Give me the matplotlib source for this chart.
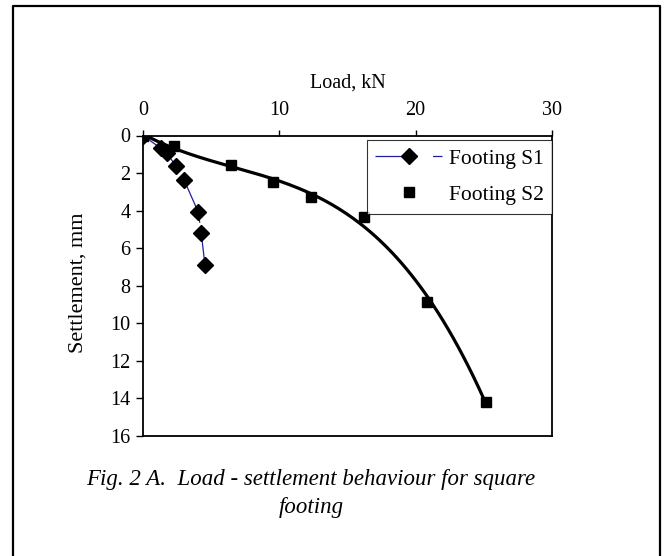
import numpy as np
import matplotlib
matplotlib.use("Agg")
import matplotlib.pyplot as plt
from matplotlib.lines import Line2D
from matplotlib.transforms import Bbox

plt.rcParams['font.family'] = ['Liberation Serif', 'DejaVu Serif']

# === Data: load (kN) vs settlement (mm) ===
load_s1 = [0.0, 1.3, 1.75, 2.4, 3.0, 4.05, 4.27, 4.55]
settle_s1 = [0.0, 0.68, 0.95, 1.6, 2.35, 4.07, 5.19, 6.92]

load_s2 = [0.0, 2.3, 6.43, 9.51, 12.3, 16.24, 20.81, 25.14]
settle_s2 = [0.0, 0.56, 1.58, 2.48, 3.3, 4.36, 8.85, 14.17]

x_ticks = [0, 10, 20, 30]
y_ticks = [0, 2, 4, 6, 8, 10, 12, 14, 16]

W, H = 667, 556
fig = plt.figure(figsize=(W / 100, H / 100), dpi=100)

def fx(px):
    return px / W

def fy(py):
    return 1 - py / H

# axes box (pixel edges)
left, right, top, bottom = 143, 552, 135.5, 436
ax = fig.add_axes([fx(left), fy(bottom), fx(right) - fx(left), fy(top) - fy(bottom)])

# === S1: dashed thin blue line with diamond markers ===
ax.plot(load_s1, settle_s1, color='#1f1fa0', lw=0.9, dashes=(40, 6), zorder=2)
ax.plot(load_s1, settle_s1, ls='none', marker='D', ms=8, color='black', zorder=4)

# === S2: square markers plus a cubic trend line ===
coef = np.polyfit(load_s2, settle_s2, 3)
xs = np.linspace(0, max(load_s2), 200)
ax.plot(xs, np.polyval(coef, xs), color='black', lw=2.3, zorder=3)
ax.plot(load_s2, settle_s2, ls='none', marker='s', ms=6.5, color='black', zorder=4)

ax.set_xlim(0, 30)
ax.set_ylim(16, 0)
ax.set_xticks(x_ticks)
ax.set_yticks(y_ticks)
ax.xaxis.tick_top()
ax.xaxis.set_label_position('top')
ax.tick_params(axis='x', direction='out', length=4.5, width=1, pad=7, labelsize=14.5)
ax.tick_params(axis='y', direction='out', length=5, width=1, pad=4, labelsize=14.5)
ax.set_xlabel('Load, kN', fontsize=14.5, labelpad=9)
for sp in ax.spines.values():
    sp.set_linewidth(1.3)

# legend: S1 line+marker, S2 marker only
h1 = Line2D([], [], color='#1f1fa0', lw=0.9, dashes=(34, 12), marker='D', ms=8,
            mfc='black', mec='black')
h2 = Line2D([], [], ls='none', marker='s', ms=6.5, color='black')
leg = fig.legend([h1, h2], ['Footing S1', 'Footing S2'], loc='upper right',
                 bbox_to_anchor=(fx(552), fy(140)), borderaxespad=0, fontsize=15.5,
                 handlelength=3.1, frameon=True, fancybox=False, labelspacing=0.75,
                 borderpad=0.4, handletextpad=0.3)
leg.get_frame().set_edgecolor('black')
leg.get_frame().set_linewidth(0.8)

# y label, clipped at the top
ylab = fig.text(fx(78), fy(353), 'Settlement, mm', rotation=90, ha='center', va='bottom',
                fontsize=16)
ylab.set_clip_box(Bbox([[0, 0], [W, H - 214]]))
ylab.set_clip_on(True)

# caption
fig.text(fx(311), fy(480), 'Fig. 2 A.  Load - settlement behaviour for square',
         ha='center', va='center', fontsize=16.5, style='italic')
fig.text(fx(311), fy(508), 'footing', ha='center', va='center', fontsize=16.5,
         style='italic')

# outer frame (bottom edge runs off the image)
frame_x = [fx(13), fx(13), fx(660), fx(660)]
frame_y = [0, fy(6), fy(6), 0]
fig.add_artist(Line2D(frame_x, frame_y, color='black', lw=1.6,
                      transform=fig.transFigure))

plt.savefig('out.png', dpi=100)
